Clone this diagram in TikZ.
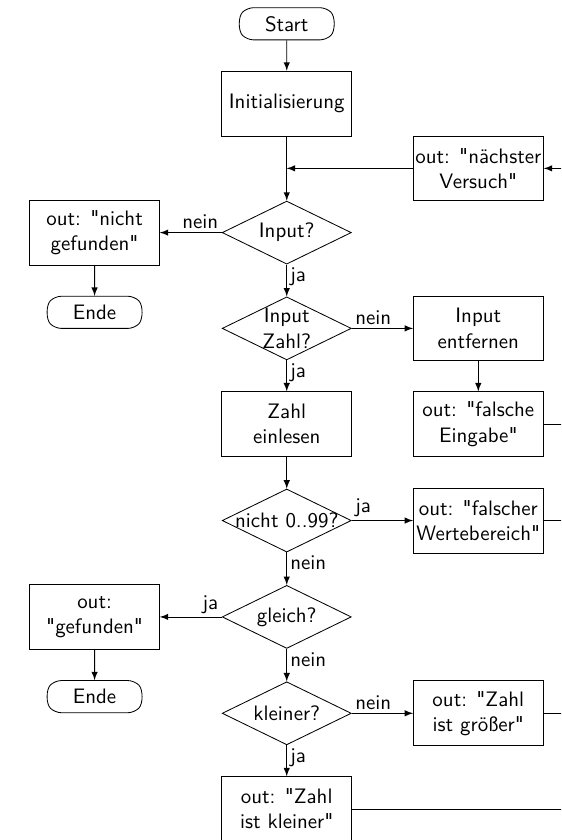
\documentclass[tikz,border=0pt]{standalone}
\usepackage{tikz}
\usetikzlibrary{arrows}
\usetikzlibrary{shapes}
\usetikzlibrary{positioning}

\newcommand{\qq}{\textquotedbl}

\tikzset{
  terminal/.style={draw, rounded rectangle, rounded rectangle arc length=90,
    rounded corners=3pt, minimum width=1.63cm, minimum height=0.54cm, inner sep=1pt},
  process/.style={draw, rectangle, align=center,
    minimum width=2.18cm, minimum height=1.09cm, inner sep=1pt},
  decision/.style={draw, diamond, minimum width=2.17cm, minimum height=1.06cm,
    inner sep=0pt, label={[align=center]center:#1}},
  flow/.style={-latex},
  lab/.style={inner sep=1.5pt}
}

\begin{document}
\begin{tikzpicture}[font=\sffamily]
\useasboundingbox (0,0) rectangle (9.43,-14.12);
\clip (0,0) rectangle (9.43,-14.12);
% main column
\node[terminal] (start) at (4.82,-0.40) {Start};
\node[process] (init) at (4.82,-1.74) {Initialisierung};
\node[decision={Input?}] (input) at (4.82,-3.91) {};
\node[decision={Input\\Zahl?}] (isnum) at (4.82,-5.52) {};
\node[process] (read) at (4.82,-7.13) {Zahl\\einlesen};
\node[decision={nicht 0..99?}] (range) at (4.82,-8.75) {};
\node[decision={gleich?}] (equal) at (4.82,-10.37) {};
\node[decision={kleiner?}] (smaller) at (4.82,-11.99) {};
\node[process] (less) at (4.82,-13.60) {out: \qq Zahl\\ist kleiner\qq};
% left column
\node[process] (notfound) at (1.59,-3.91) {out: \qq nicht\\gefunden\qq};
\node[terminal] (end1) at (1.59,-5.25) {Ende};
\node[process] (found) at (1.59,-10.37) {out:\\\qq gefunden\qq};
\node[terminal] (end2) at (1.59,-11.71) {Ende};
% right column
\node[process] (again) at (8.04,-2.83) {out: \qq nächster\\Versuch\qq};
\node[process] (remove) at (8.04,-5.52) {Input\\entfernen};
\node[process] (wrong) at (8.04,-7.13) {out: \qq falsche\\Eingabe\qq};
\node[process] (outrange) at (8.04,-8.75) {out: \qq falscher\\Wertebereich\qq};
\node[process] (bigger) at (8.04,-11.99) {out: \qq Zahl\\ist größer\qq};
% return line (off the page)
\coordinate (back) at (9.8,0);
\coordinate (join) at (init |- again);

\draw[flow] (start) -- (init);
\draw[flow] (init) -- (input);
\draw[flow] (back |- again) -- (again);
\draw[flow] (again) -- (join);
\draw[flow] (input.west) -- node[lab,pos=0,above left] {nein} (notfound.east);
\draw[flow] (notfound) -- (end1);
\draw[flow] (input.south) -- node[lab,pos=0,below right] {ja} (isnum.north);
\draw[flow] (isnum.east) -- node[lab,pos=0,above right] {nein} (remove.west);
\draw[flow] (remove) -- (wrong);
\draw (wrong.east) -- (back |- wrong);
\draw[flow] (isnum.south) -- node[lab,pos=0,below right] {ja} (read.north);
\draw[flow] (read) -- (range);
\draw[flow] (range.east) -- node[lab,pos=0,above right] {ja} (outrange.west);
\draw (outrange.east) -- (back |- outrange);
\draw[flow] (range.south) -- node[lab,pos=0,below right] {nein} (equal.north);
\draw[flow] (equal.west) -- node[lab,pos=0,above left] {ja} (found.east);
\draw[flow] (found) -- (end2);
\draw[flow] (equal.south) -- node[lab,pos=0,below right] {nein} (smaller.north);
\draw[flow] (smaller.east) -- node[lab,pos=0,above right] {nein} (bigger.west);
\draw (bigger.east) -- (back |- bigger);
\draw[flow] (smaller.south) -- node[lab,pos=0,below right] {ja} (less.north);
\draw (less.east) -- (back |- less);
\end{tikzpicture}
\end{document}
